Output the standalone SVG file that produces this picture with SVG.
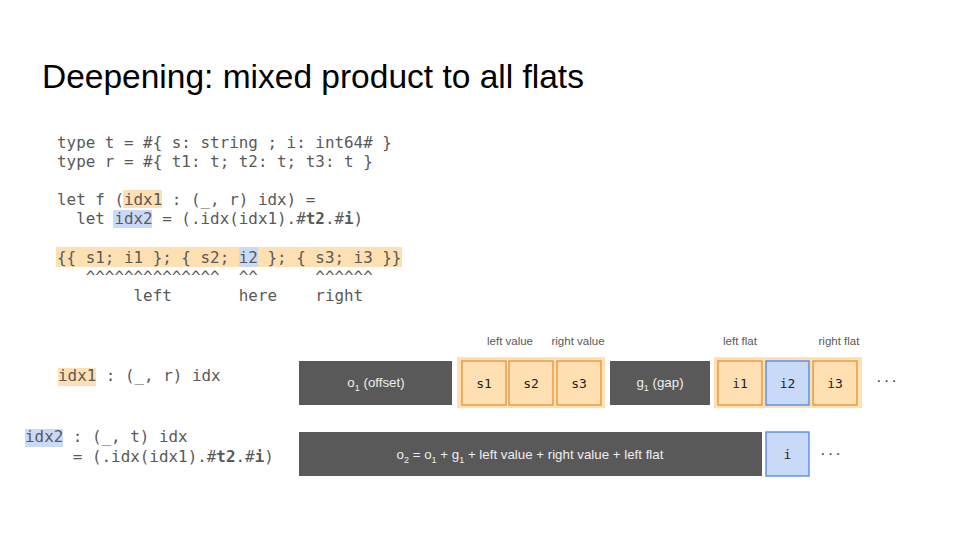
<svg xmlns="http://www.w3.org/2000/svg" width="960" height="540" viewBox="0 0 960 540">
<style>
.code{font-family:"DejaVu Sans Mono","Liberation Mono",monospace;font-size:15.9px;fill:#595959}
.b{font-weight:bold}
.hlo{fill:#ffe0b2}
.hlb{fill:#c9daf8}
.dark{fill:#595959}
.dt{font-family:"Liberation Sans",Arial,sans-serif;font-size:13.3px;fill:#eeeeee;text-anchor:middle}
.sub{font-size:9px}
.cont{fill:#ffe0b2}
.ob{fill:#ffe0b2;stroke:#e69138;stroke-width:1.3}
.bb{fill:#c9daf8;stroke:#4a86e8;stroke-width:1.3}
.bt{font-family:"DejaVu Sans Mono","Liberation Mono",monospace;font-size:13px;fill:#222;text-anchor:middle}
.lab{font-family:"Liberation Sans",Arial,sans-serif;font-size:11.5px;fill:#595959;text-anchor:middle}
.dots{font-family:"Liberation Sans",Arial,sans-serif;font-size:17px;fill:#4a4a4a;letter-spacing:2px}
</style>
<rect width="960" height="540" fill="#ffffff"/>
<text x="42" y="88" font-family="'Liberation Sans',Arial,sans-serif" font-size="33.5" fill="#000">Deepening: mixed product to all flats</text>

<g id="code">
<rect class="hlo" x="123" y="190" width="39" height="18"/>
<rect class="hlb" x="113" y="210" width="39" height="18"/>
<rect class="hlo" x="56" y="247" width="346" height="20"/>
<rect class="hlb" x="239" y="247" width="19" height="20"/>
<text class="code" x="57" y="148" xml:space="preserve">type t = #{ s: string ; i: int64# }</text>
<text class="code" x="57" y="167" xml:space="preserve">type r = #{ t1: t; t2: t; t3: t }</text>
<text class="code" x="57" y="205" xml:space="preserve">let f (idx1 : (_, r) idx) =</text>
<text class="code" x="57" y="224" xml:space="preserve">  let idx2 = (.idx(idx1).#<tspan class="b">t2</tspan>.#<tspan class="b">i</tspan>)</text>
<text class="code" x="57" y="263" xml:space="preserve">{{ s1; i1 }; { s2; i2 }; { s3; i3 }}</text>
<text class="code" x="57" y="282" xml:space="preserve">   ^^^^^^^^^^^^^^  ^^      ^^^^^^</text>
<text class="code" x="57" y="301" xml:space="preserve">        left       here    right</text>
</g>

<g id="idx1-label">
<rect class="hlo" x="58" y="368" width="38" height="18"/>
<text class="code" x="58" y="381" xml:space="preserve">idx1 : (_, r) idx</text>
</g>
<g id="idx2-label">
<rect class="hlb" x="25" y="429" width="38" height="18"/>
<text class="code" x="25" y="442" xml:space="preserve">idx2 : (_, t) idx</text>
<text class="code" x="25" y="462" xml:space="preserve">     = (.idx(idx1).#<tspan class="b">t2</tspan>.#<tspan class="b">i</tspan>)</text>
</g>

<g id="offset1">
<rect class="dark" x="299" y="361" width="153" height="44"/>
<text class="dt" x="376" y="387">o<tspan class="sub" dy="4">1</tspan><tspan dy="-4"> (offset)</tspan></text>
</g>
<g id="values">
<rect class="cont" x="457" y="357" width="148" height="51"/>
<text class="lab" x="510" y="345">left value</text>
<text class="lab" x="578" y="345">right value</text>
<g id="s1"><rect class="ob" x="462" y="361" width="44" height="44"/><text class="bt" x="484" y="388">s1</text></g>
<g id="s2"><rect class="ob" x="509" y="361" width="44" height="44"/><text class="bt" x="531" y="388">s2</text></g>
<g id="s3"><rect class="ob" x="557" y="361" width="44" height="44"/><text class="bt" x="579" y="388">s3</text></g>
</g>
<g id="gap1">
<rect class="dark" x="610" y="361" width="100" height="44"/>
<text class="dt" x="660" y="387">g<tspan class="sub" dy="4">1</tspan><tspan dy="-4"> (gap)</tspan></text>
</g>
<g id="flats">
<rect class="cont" x="714" y="357" width="148" height="51"/>
<text class="lab" x="740" y="345">left flat</text>
<text class="lab" x="839" y="345">right flat</text>
<g id="i1"><rect class="ob" x="718" y="361" width="44" height="44"/><text class="bt" x="740" y="388">i1</text></g>
<g id="i2"><rect class="bb" x="766" y="361" width="43" height="44"/><text class="bt" x="787.5" y="388">i2</text></g>
<g id="i3"><rect class="ob" x="813" y="361" width="44" height="44"/><text class="bt" x="835" y="388">i3</text></g>
</g>
<g id="more1"><text class="dots" x="876" y="386">···</text></g>

<g id="offset2">
<rect class="dark" x="299" y="432" width="463" height="44"/>
<text class="dt" x="530" y="459">o<tspan class="sub" dy="4">2</tspan><tspan dy="-4"> = o</tspan><tspan class="sub" dy="4">1</tspan><tspan dy="-4"> + g</tspan><tspan class="sub" dy="4">1</tspan><tspan dy="-4"> + left value + right value + left flat</tspan></text>
</g>
<g id="i"><rect class="bb" x="766" y="432" width="43" height="44"/><text class="bt" x="787.5" y="459">i</text></g>
<g id="more2"><text class="dots" x="820" y="459">···</text></g>
<g id="connectors"/>
</svg>
